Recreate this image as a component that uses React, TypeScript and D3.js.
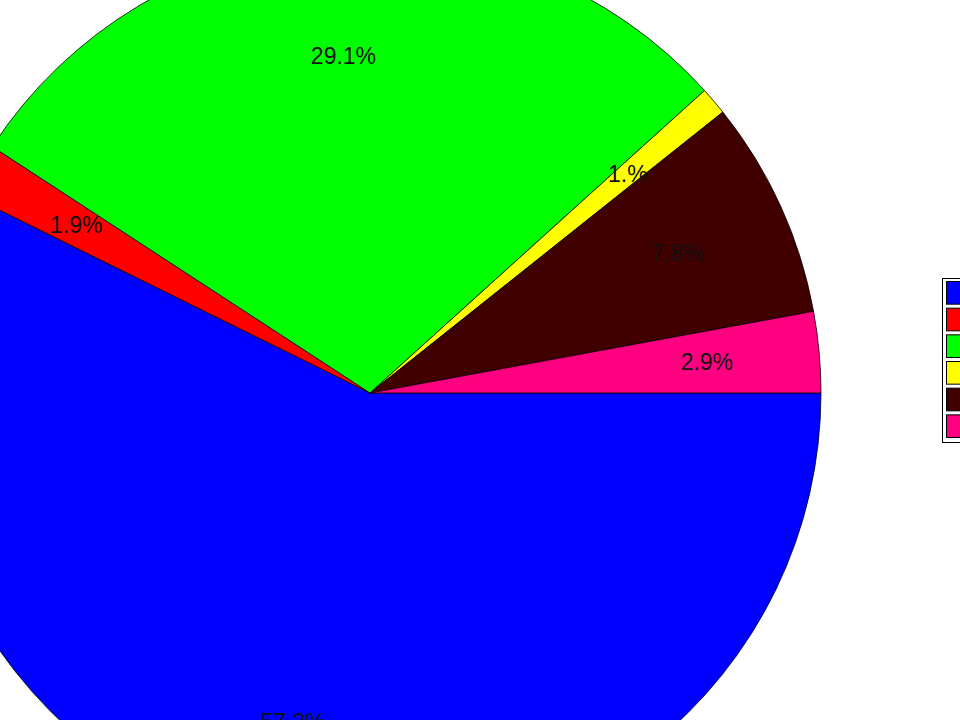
import React from "react";
import * as d3 from "d3";

const categories = ["A", "B", "C", "D", "E", "F"];
const values = [57.3, 1.9, 29.1, 1.0, 7.8, 2.9];
const pctLabels = ["57.3%", "1.9%", "29.1%", "1.%", "7.8%", "2.9%"];
const colors = ["#0000ff", "#ff0000", "#00ff00", "#ffff00", "#400000", "#ff0080"];

const width = 960;
const height = 720;
const cx = 370;
const cy = 393;
const radius = 451;

export default function App() {
  const data = categories.map((c, i) => ({ cat: c, value: values[i], label: pctLabels[i], color: colors[i] }));

  // start at 3 o'clock, go clockwise
  const pie = d3
    .pie<(typeof data)[number]>()
    .value((d) => d.value)
    .sort(null)
    .startAngle(Math.PI / 2)
    .endAngle(Math.PI / 2 + 2 * Math.PI);

  const arc = d3.arc<d3.PieArcDatum<(typeof data)[number]>>().innerRadius(0).outerRadius(radius);
  const labelArc = d3
    .arc<d3.PieArcDatum<(typeof data)[number]>>()
    .innerRadius(radius * 0.75)
    .outerRadius(radius * 0.75);

  const arcs = pie(data);

  const legendY = d3.scaleBand<string>().domain(categories).range([281, 437]).paddingInner(0.15);

  return (
    <svg
      width={width}
      height={height}
      style={{ position: "absolute", left: 0, top: 0, background: "#fff" }}
      fontFamily="Liberation Sans, Arial, sans-serif"
    >
      <g transform={`translate(${cx},${cy})`}>
        {arcs.map((a, i) => (
          <path key={i} d={arc(a) || ""} fill={a.data.color} stroke="#000" strokeWidth={0.8} />
        ))}
        {arcs.map((a, i) => {
          const [x, y] = labelArc.centroid(a);
          return (
            <text key={i} x={x} y={y} dy="0.35em" textAnchor="middle" fontSize={23} fill="#111">
              {a.data.label}
            </text>
          );
        })}
      </g>
      <g>
        <rect x={942.5} y={278.5} width={40} height={164} fill="#fff" stroke="#000" strokeWidth={1} />
        {data.map((d) => (
          <rect
            key={d.cat}
            x={946.5}
            y={(legendY(d.cat) || 0) + 0.5}
            width={30}
            height={legendY.bandwidth()}
            fill={d.color}
            stroke="#000"
            strokeWidth={1}
          />
        ))}
      </g>
    </svg>
  );
}
